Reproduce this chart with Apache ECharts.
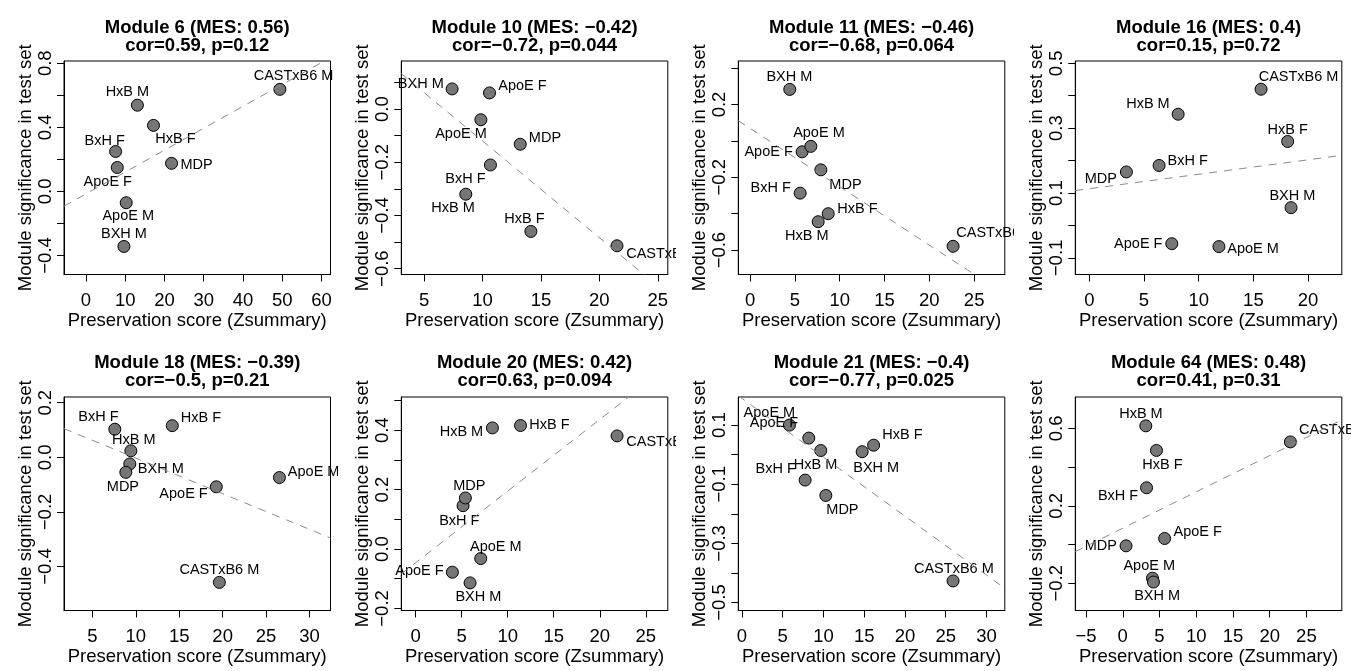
<!DOCTYPE html>
<html>
<head>
<meta charset="utf-8">
<script src="https://cdn.jsdelivr.net/npm/echarts@6/dist/echarts.min.js"></script>
<style>
  html, body { margin: 0; padding: 0; background: #fff; }
  #wrap { position: relative; width: 1351px; height: 671px; }
  .panel { position: absolute; overflow: hidden; }
</style>
</head>
<body>
<div id="wrap"></div>
<script>
// same sample order in every module
var samples = ["ApoE F", "ApoE M", "BxH F", "BXH M", "CASTxB6 M", "HxB F", "HxB M", "MDP"];

var modules = [6, 10, 11, 16, 18, 20, 21, 64];
var mes = [0.56, -0.42, -0.46, 0.4, -0.39, 0.42, -0.4, 0.48];
var cors = [0.59, -0.72, -0.68, 0.15, -0.5, 0.63, -0.77, 0.41];
var pvals = [0.12, 0.044, 0.064, 0.72, 0.21, 0.094, 0.025, 0.31];

// Zsummary (x) and module significance in test set (y)
var zs6  = [7.97, 10.25, 7.55, 9.67, 49.4, 17.2, 13.1, 21.8];
var ms6  = [0.149, -0.071, 0.249, -0.344, 0.637, 0.412, 0.538, 0.175];
var zs10 = [10.6, 9.86, 10.68, 7.40, 21.51, 14.14, 8.57, 13.23];
var ms10 = [0.061, -0.040, -0.210, 0.076, -0.514, -0.460, -0.320, -0.132];
var zs11 = [5.81, 6.78, 5.59, 4.43, 22.65, 8.72, 7.60, 7.90];
var ms11 = [-0.060, -0.030, -0.287, 0.283, -0.579, -0.400, -0.444, -0.159];
var zs16 = [7.54, 11.85, 6.38, 18.44, 15.70, 18.13, 8.12, 3.39];
var ms16 = [-0.056, -0.065, 0.185, 0.055, 0.420, 0.259, 0.343, 0.165];
var zs18 = [19.27, 26.54, 7.58, 9.31, 19.62, 14.20, 9.43, 8.85];
var ms18 = [-0.108, -0.074, 0.103, -0.024, -0.458, 0.116, 0.024, -0.055];
var zs20 = [3.99, 7.07, 5.15, 5.91, 21.88, 11.39, 8.34, 5.40];
var ms20 = [-0.078, -0.032, 0.146, -0.114, 0.381, 0.416, 0.408, 0.172];
var zs21 = [8.20, 5.82, 7.75, 14.75, 25.90, 16.15, 9.67, 10.29];
var ms21 = [0.056, 0.100, -0.086, 0.010, -0.427, 0.032, 0.014, -0.138];
var zs64 = [5.70, 4.05, 3.24, 4.18, 22.82, 4.59, 3.14, 0.45];
var ms64 = [0.031, -0.174, 0.293, -0.194, 0.530, 0.486, 0.613, -0.007];

// axis limits
var xLims = [[-5.6, 62.3], [3.05, 25.86], [-1.31, 28.42], [-1.28, 23.08],
             [1.73, 32.42], [-1.56, 27.39], [-0.45, 32.25], [-6.46, 29.82]];
var yLims = [[-0.519, 0.814], [-0.622, 0.181], [-0.734, 0.439], [-0.151, 0.507],
             [-0.561, 0.221], [-0.207, 0.512], [-0.527, 0.195], [-0.341, 0.762]];

// tick marks and tick labels
var xTicks = [[0, 10, 20, 30, 40, 50, 60], [5, 10, 15, 20, 25], [0, 5, 10, 15, 20, 25], [0, 5, 10, 15, 20],
              [5, 10, 15, 20, 25, 30], [0, 5, 10, 15, 20, 25], [0, 5, 10, 15, 20, 25, 30], [-5, 0, 5, 10, 15, 20, 25]];
var yTicks = [[-0.4, -0.2, 0, 0.2, 0.4, 0.6, 0.8],
              [-0.6, -0.5, -0.4, -0.3, -0.2, -0.1, 0, 0.1],
              [-0.6, -0.4, -0.2, 0, 0.2, 0.4],
              [-0.1, 0, 0.1, 0.2, 0.3, 0.4, 0.5],
              [-0.4, -0.2, 0, 0.2],
              [-0.2, -0.1, 0, 0.1, 0.2, 0.3, 0.4, 0.5],
              [-0.5, -0.4, -0.3, -0.2, -0.1, 0, 0.1],
              [-0.2, 0, 0.2, 0.4, 0.6]];
var yLabels = [[-0.4, 0, 0.4, 0.8], [-0.6, -0.4, -0.2, 0], [-0.6, -0.2, 0.2], [-0.1, 0.1, 0.3, 0.5],
               [-0.4, -0.2, 0, 0.2], [-0.2, 0, 0.2, 0.4], [-0.5, -0.3, -0.1, 0.1], [-0.2, 0.2, 0.6]];

// label placement (px from point centre), same sample order
var labelOffsets = [
  [[-9.5, 14], [2, 13.3], [-11, -10.5], [0, -12.7], [13.7, -13.3], [22, 13.7], [-10, -13], [25, 1.3]],
  [[32.9, -6.6], [-19.9, 14], [-25.1, 13.8], [-31.3, -4.7], [49.1, 8.6], [-6.4, -12.4], [-12.7, 13.5], [24.7, -6]],
  [[-33.5, 0], [8.1, -13], [-29.5, -4.9], [-0.4, -12.5], [43.1, -13], [29.2, -4.3], [-11.3, 14], [24.6, 15.1]],
  [[-33.5, 0], [34.1, 2.3], [28.5, -4.3], [1.3, -11.5], [37.5, -12.5], [0, -11.3], [-30.2, -10.5], [-25.5, 7]],
  [[-32.8, 7.1], [34.2, -5.5], [-16.4, -12], [31, 5.5], [0, -11.9], [28.7, -7.5], [3, -10.5], [-2.9, 14.6]],
  [[-33, -1.2], [15.1, -11.3], [-3.8, 15.3], [8.3, 13.7], [49.1, 6], [28.9, -0.4], [-31, 3.7], [3.9, -12]],
  [[-34.9, -15], [-20, -12.4], [-29.5, -11.2], [14, 16], [0.8, -11.5], [28.9, -10.5], [-5.2, 14.7], [16.6, 14.5]],
  [[33.1, -6.9], [-3.3, -11.9], [-28.5, 8.3], [3.7, 14], [48.5, -12], [6, 15], [-4.9, -11.8], [-25.2, 0.5]]
];

var xs = [zs6, zs10, zs11, zs16, zs18, zs20, zs21, zs64];
var ys = [ms6, ms10, ms11, ms16, ms18, ms20, ms21, ms64];

var FONT = "'Liberation Sans', Arial, sans-serif";
var colLeft = [0, 338, 676, 1014];
var colWidth = [338, 338, 338, 337];
var gridLeft = [64, 63.3, 62.3, 61.3];
var rowTop = [0, 335];
var rowHeight = [335, 336];
var gridTop = [61, 62];

function minus(s) { return String(s).replace('-', '\u2212'); }

// least squares fit y ~ x
function fit(x, y) {
  var n = x.length, mx = 0, my = 0, sxy = 0, sxx = 0;
  for (var i = 0; i < n; i++) { mx += x[i]; my += y[i]; }
  mx /= n; my /= n;
  for (var i = 0; i < n; i++) {
    sxy += (x[i] - mx) * (y[i] - my);
    sxx += (x[i] - mx) * (x[i] - mx);
  }
  var b = sxy / sxx;
  return { a: my - b * mx, b: b };
}

var wrap = document.getElementById('wrap');

modules.forEach(function (mod, k) {
  var col = k % 4, row = Math.floor(k / 4);
  var div = document.createElement('div');
  div.className = 'panel';
  div.style.left = colLeft[col] + 'px';
  div.style.top = rowTop[row] + 'px';
  div.style.width = colWidth[col] + 'px';
  div.style.height = rowHeight[row] + 'px';
  wrap.appendChild(div);

  var gw = 266.5, gh = 221.5;
  var gl = gridLeft[col], gt = gridTop[row];

  var pts = samples.map(function (s, i) {
    return {
      name: s,
      value: [xs[k][i], ys[k][i]],
      label: { offset: labelOffsets[k][i] }
    };
  });

  var f = fit(xs[k], ys[k]);
  var lineData = xLims[k].map(function (x) { return [x, f.a + f.b * x]; });

  var chart = echarts.init(div, null, { renderer: 'canvas' });
  chart.setOption({
    animation: false,
    textStyle: { fontFamily: FONT },
    title: {
      text: 'Module ' + mod + ' (MES: ' + minus(mes[k]) + ')\ncor=' + minus(cors[k]) + ', p=' + pvals[k],
      left: gl + gw / 2,
      top: 18.5,
      padding: 0,
      textAlign: 'center',
      textStyle: { fontFamily: FONT, fontWeight: 'bold', fontSize: 18.5, lineHeight: 18.5, color: '#000' }
    },
    grid: {
      left: gl, top: gt, width: gw, height: gh,
      show: true, borderColor: '#000', borderWidth: 1, backgroundColor: 'transparent'
    },
    xAxis: {
      type: 'value',
      min: xLims[k][0], max: xLims[k][1],
      name: 'Preservation score (Zsummary)',
      nameLocation: 'middle',
      nameGap: 36.5,
      nameMoveOverlap: false,
      nameTextStyle: { fontFamily: FONT, fontSize: 18.5, color: '#000' },
      axisLine: { show: true, onZero: false, lineStyle: { color: '#000', width: 1 } },
      axisTick: { show: true, inside: false, length: 7, customValues: xTicks[k], lineStyle: { color: '#000', width: 1 } },
      axisLabel: {
        customValues: xTicks[k], margin: 16.5, fontSize: 18.5, color: '#000', fontFamily: FONT,
        formatter: function (v) { return minus(v); }
      },
      splitLine: { show: false }
    },
    yAxis: {
      type: 'value',
      min: yLims[k][0], max: yLims[k][1],
      name: 'Module significance in test set',
      nameLocation: 'middle',
      nameGap: 28.5,
      nameMoveOverlap: false,
      nameTextStyle: { fontFamily: FONT, fontSize: 18.5, color: '#000' },
      axisLine: { show: true, onZero: false, lineStyle: { color: '#000', width: 1 } },
      axisTick: { show: true, inside: false, length: 7, customValues: yTicks[k], lineStyle: { color: '#000', width: 1 } },
      axisLabel: {
        customValues: yLabels[k], rotate: 90, margin: 9, fontSize: 18.5, color: '#000', fontFamily: FONT,
        formatter: function (v) { return minus(Number(v).toFixed(1)); }
      },
      splitLine: { show: false }
    },
    series: [
      {
        type: 'scatter',
        z: 2,
        data: pts,
        symbol: 'circle',
        symbolSize: 12,
        itemStyle: { color: '#767676', borderColor: '#000', borderWidth: 1, opacity: 1 },
        label: {
          show: true, position: 'inside', formatter: '{b}',
          align: 'center', verticalAlign: 'middle',
          fontFamily: FONT, fontSize: 14.5, color: '#000'
        },
        emphasis: { disabled: true }
      },
      {
        type: 'line',
        z: 3,
        data: lineData,
        symbol: 'none',
        clip: true,
        lineStyle: { color: '#8a8a8a', width: 1, type: [8, 7] },
        emphasis: { disabled: true },
        silent: true
      }
    ]
  });
});
</script>
</body>
</html>
